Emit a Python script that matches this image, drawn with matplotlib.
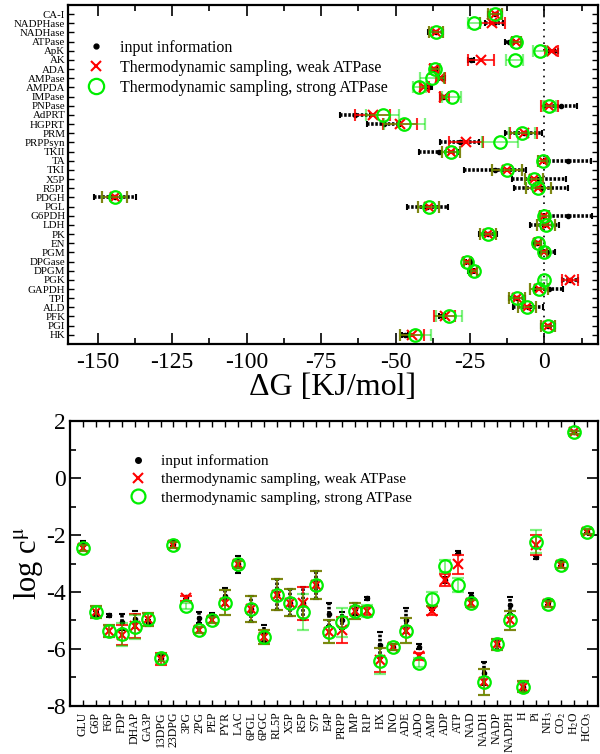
import matplotlib
matplotlib.use("Agg")
import matplotlib.pyplot as plt
from matplotlib.lines import Line2D
from matplotlib.ticker import MultipleLocator

plt.rcParams['font.family'] = ['Liberation Serif', 'DejaVu Serif']
plt.rcParams['mathtext.fontset'] = 'stix'
plt.rcParams['axes.unicode_minus'] = False

# ---- top panel: reaction free energies (top row first) ----
reactions = ["CA-I", "NADPHase", "NADHase", "ATPase", "ApK", "AK", "ADA", "AMPase",
             "AMPDA", "IMPase", "PNPase", "AdPRT", "HGPRT", "PRM", "PRPPsyn", "TKII",
             "TA", "TKI", "X5P", "R5PI", "PDGH", "PGL", "G6PDH", "LDH", "PK", "EN",
             "PGM", "DPGase", "DPGM", "PGK", "GAPDH", "TPI", "ALD", "PFK", "PGI", "HK"]
dg_in = [-16.5, -17, -36.5, -11.8, 3.2, -24.5, -37, -34.3, -38.8, -34, 5.5, -63.5, -54,
         -7, -28.5, -35.5, 7.8, -16.5, -1.8, -1.2, -144.3, -39.3, 8, 0, -19, -2.5,
         1, -25.3, -24.5, 8.7, 1.5, -9.2, -5.5, -34.5, 1.3, -46.8]
dg_in_err = [2.3, 3, 2.5, 1.5, 1.5, 1, 1, 1, 1, 1, 5.5, 5, 5.5, 6.3, 6.5, 6.5, 7.8,
             10.4, 9.2, 9.1, 7, 6.8, 8, 4.8, 3, 1.3, 2.5, 1, 1, 2.7, 4.7, 2.8, 5, 1,
             2.4, 1]
dg_weak = [-16.5, -17.5, -36.5, -9.5, 2.5, -21.3, -37, -35, -40.3, -33.7, 1.7, -57.7,
           -48.5, -7, -26.3, -31.4, -0.5, -12.5, -3.4, -2, -144.3, -38.9, 0, 0.6, -19,
           -2.2, 0, -26.1, -23.7, 8.7, -1.7, -9.2, -5.9, -33.5, 1.3, -44.5]
dg_weak_err = [2.3, 4.2, 2.3, 1.5, 2.2, 4.2, 1.5, 1.5, 1.5, 1.5, 2.8, 6, 5.8, 4.5, 5.6,
               3, 1.5, 5, 3, 4.2, 4.2, 3.6, 1.5, 3, 2.8, 1, 1, 1, 1, 2.7, 3, 2.8, 3,
               3.5, 2.4, 4]
dg_strong = [-16.5, -23.5, -36.5, -9.5, -1.5, -10, -36.7, -37.8, -42, -31.1, 1.7,
             -54.3, -47, -7.5, -15, -31.4, -0.5, -12.5, -3.4, -2, -144.3, -38.9, 0,
             0.6, -19, -2.2, 0, -26.1, -23.7, 0, -1.7, -9.2, -5.9, -32.1, 1.3, -43.3]
dg_strong_err = [2.3, 2, 2.3, 1.5, 2.3, 2.8, 1.5, 4, 2.2, 3.2, 2.3, 5.5, 7, 4.5, 6, 3,
                 1.5, 5, 3, 4.2, 4.2, 3.6, 1.5, 3, 2.8, 1, 1, 1, 1, 1, 3, 2.8, 3, 4.3,
                 2.4, 5.3]

# ---- bottom panel: log concentrations ----
metabolites = ["GLU", "G6P", "F6P", "FDP", "DHAP", "GA3P", "13DPG", "23DPG", "3PG",
               "2PG", "PEP", "PYR", "LAC", "6PGL", "6PGC", "RL5P", "X5P", "R5P", "S7P",
               "E4P", "PRPP", "IMP", "R1P", "HX", "INO", "ADE", "ADO", "AMP", "ADP",
               "ATP", "NAD", "NADH", "NADP", "NADPH", "H", "Pi", "NH$_3$", "CO$_2$",
               "H$_2$O", "HCO$_3$"]
lc_in = [-2.3, -4.75, -4.81, -5.05, -4.95, -5.1, -6.3, -2.3, -4.18, -4.9, -4.8, -4.15,
         -3.03, -4.6, -5.45, -4.1, -4.37, -4.4, -3.76, -4.78, -5.0, -4.6, -4.22, -5.85,
         -5.92, -5.0, -5.92, -4.57, -3.58, -2.62, -4.15, -6.85, -5.84, -4.46, -7.32,
         -2.78, -4.35, -3.0, 1.6, -1.88]
lc_in_err = [0.1, 0.1, 0.05, 0.27, 0.3, 0.1, 0.1, 0.08, 0.05, 0.2, 0.05, 0.3, 0.3, 0.47,
             0.3, 0.54, 0.47, 0.58, 0.48, 0.4, 0.3, 0.2, 0.05, 0.45, 0.1, 0.43, 0.08,
             0.05, 0.1, 0.05, 0.1, 0.4, 0.2, 0.3, 0.2, 0.05, 0.1, 0.08, 0.05, 0.05]
lc_weak = [-2.45, -4.7, -5.37, -5.5, -5.2, -4.96, -6.35, -2.35, -4.22, -5.33, -4.98,
           -4.37, -3.03, -4.6, -5.59, -4.1, -4.37, -4.4, -3.76, -5.4, -5.33, -4.67,
           -4.67, -6.4, -5.92, -5.36, -6.25, -4.65, -3.58, -3.03, -4.4, -7.17, -5.84,
           -5.0, -7.32, -2.35, -4.42, -3.05, 1.6, -1.88]
lc_weak_err = [0.1, 0.2, 0.2, 0.35, 0.43, 0.22, 0.2, 0.1, 0.08, 0.1, 0.1, 0.44, 0.12,
               0.47, 0.25, 0.54, 0.47, 0.58, 0.48, 0.4, 0.47, 0.27, 0.15, 0.42, 0.1,
               0.43, 0.12, 0.15, 0.2, 0.33, 0.12, 0.45, 0.2, 0.35, 0.2, 0.35, 0.1, 0.1,
               0.05, 0.08]
lc_strong = [-2.45, -4.7, -5.37, -5.49, -5.22, -4.96, -6.3, -2.35, -4.48, -5.33, -4.98,
             -4.37, -3.03, -4.6, -5.59, -4.1, -4.37, -4.7, -3.76, -5.4, -5.07, -4.67,
             -4.67, -6.42, -5.92, -5.36, -6.48, -4.25, -3.09, -3.75, -4.4, -7.17,
             -5.84, -5.0, -7.32, -2.23, -4.42, -3.05, 1.6, -1.88]
lc_strong_err = [0.1, 0.2, 0.2, 0.4, 0.43, 0.22, 0.12, 0.1, 0.1, 0.1, 0.1, 0.44, 0.12,
                 0.47, 0.25, 0.54, 0.47, 0.62, 0.48, 0.4, 0.5, 0.27, 0.2, 0.47, 0.1,
                 0.43, 0.15, 0.25, 0.2, 0.25, 0.12, 0.45, 0.2, 0.35, 0.2, 0.4, 0.1, 0.1,
                 0.05, 0.08]

GREEN = '#00ee00'


def draw_sets(ax, pos, sets, horizontal):
    (v0, e0), (v1, e1), (v2, e2) = sets
    def eb(v, e, **kw):
        if horizontal:
            return ax.errorbar(v, pos, xerr=e, linestyle='none', **kw)
        return ax.errorbar(pos, v, yerr=e, linestyle='none', **kw)
    b = eb(v0, e0, marker='o', ms=3, color='k', elinewidth=2.6, capsize=2.5,
           capthick=1.5, zorder=2)
    b[2][0].set_linestyle((0, (0.7, 0.45)))
    eb(v1, e1, marker='x', ms=7, mew=1.5, color='red', ecolor=(1, 0, 0, 0.85),
       elinewidth=1.3, capsize=4.5, capthick=1.3, zorder=3)
    eb(v2, e2, marker='o', ms=9, mew=1.6, mfc='none', mec=GREEN,
       ecolor=(0, 0.9, 0, 0.5), elinewidth=1.3, capsize=4.5, capthick=1.3, zorder=4)


fig = plt.figure(figsize=(6, 7.54), dpi=100)

# ---------------- top panel ----------------
ax1 = fig.add_axes([0.1133, 0.5438, 0.8834, 0.4496])
n = len(reactions)
ypos = [n - 1 - i for i in range(n)]
ax1.axvline(0, color='k', ls=(0, (1, 3)), lw=1.2, zorder=1)
draw_sets(ax1, ypos, [(dg_in, dg_in_err), (dg_weak, dg_weak_err),
                      (dg_strong, dg_strong_err)], True)
ax1.set_xlim(-160, 18)
ax1.set_ylim(-1, n)
ax1.xaxis.set_major_locator(MultipleLocator(25))
ax1.xaxis.set_minor_locator(MultipleLocator(12.5))
ax1.set_yticks(ypos)
ax1.set_yticklabels(reactions, fontsize=7.8)
ax1.tick_params(axis='x', which='major', direction='in', top=True, length=8,
                width=1.2, labelsize=17, pad=6)
ax1.tick_params(axis='x', which='minor', direction='in', top=True, length=4, width=1.2)
ax1.tick_params(axis='y', direction='in', right=True, length=4, width=1.0, pad=2)
ax1.set_xlabel('ΔG [KJ/mol]', fontsize=23, labelpad=0)
for s in ax1.spines.values():
    s.set_linewidth(1.6)

h = [Line2D([], [], ls='none', marker='o', ms=3.5, color='k'),
     Line2D([], [], ls='none', marker='x', ms=7, mew=1.5, color='red'),
     Line2D([], [], ls='none', marker='o', ms=11, mew=1.6, mfc='none', mec=GREEN)]
ax1.legend(h, ['input information', 'Thermodynamic sampling, weak ATPase',
               'Thermodynamic sampling, strong ATPase'],
           loc='upper left', bbox_to_anchor=(0.02, 0.92), frameon=False, fontsize=11.5,
           handlelength=1.2, handletextpad=0.9, labelspacing=0.25, borderpad=0)

# ---------------- bottom panel ----------------
ax2 = fig.add_axes([0.1167, 0.0637, 0.88, 0.3779])
xpos = list(range(len(metabolites)))
draw_sets(ax2, xpos, [(lc_in, lc_in_err), (lc_weak, lc_weak_err),
                      (lc_strong, lc_strong_err)], False)
ax2.set_xlim(-1, 39.83)
ax2.set_ylim(-8, 2)
ax2.set_xticks(xpos)
ax2.set_xticklabels(metabolites, rotation=90, fontsize=8.5)
ax2.yaxis.set_major_locator(MultipleLocator(2))
ax2.yaxis.set_minor_locator(MultipleLocator(1))
ax2.tick_params(axis='x', direction='in', top=True, length=4, width=1.0, pad=4)
ax2.tick_params(axis='y', which='major', direction='in', right=True, length=8,
                width=1.2, labelsize=17, pad=3)
ax2.tick_params(axis='y', which='minor', direction='in', right=True, length=4, width=1.2)
ax2.set_ylabel(r'log c$^{\mathrm{\mu}}$', fontsize=22, labelpad=1)
for s in ax2.spines.values():
    s.set_linewidth(1.6)

h2 = [Line2D([], [], ls='none', marker='o', ms=4, color='k'),
      Line2D([], [], ls='none', marker='x', ms=7, mew=1.5, color='red'),
      Line2D([], [], ls='none', marker='o', ms=10, mew=1.6, mfc='none', mec=GREEN)]
ax2.legend(h2, ['input information', 'thermodynamic sampling, weak ATPase',
                'thermodynamic sampling, strong ATPase'],
           loc='upper left', bbox_to_anchor=(0.097, 0.91), frameon=False, fontsize=11,
           handlelength=1.2, handletextpad=0.9, labelspacing=0.3, borderpad=0)

fig.savefig('out.png', dpi=100)
